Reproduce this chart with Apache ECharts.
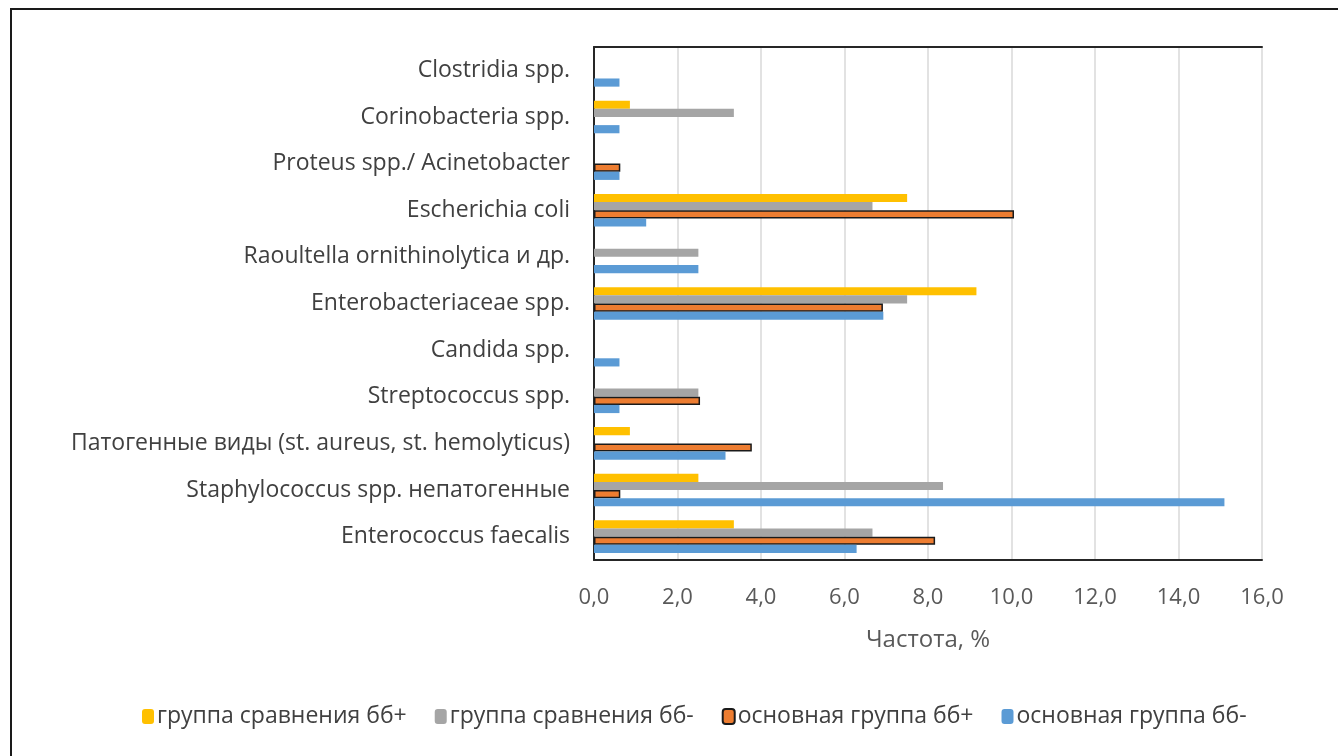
<!DOCTYPE html>
<html><head><meta charset="utf-8">
<script src="https://cdn.jsdelivr.net/npm/echarts@6/dist/echarts.min.js"></script>
<style>html,body{margin:0;padding:0;background:#fff}#c{width:1338px;height:756px}</style>
</head><body><div id="c"></div>
<script>
const categories = [
  "Enterococcus faecalis",
  "Staphylococcus spp. непатогенные",
  "Патогенные виды (st. aureus, st. hemolyticus)",
  "Streptococcus spp.",
  "Candida spp.",
  "Enterobacteriaceae spp.",
  "Raoultella ornithinolytica и др.",
  "Escherichia coli",
  "Proteus spp./ Acinetobacter",
  "Corinobacteria spp.",
  "Clostridia spp."
];
const seriesNames = ["группа сравнения бб+", "группа сравнения бб-", "основная группа бб+", "основная группа бб-"];
const compPlus  = [3.35, 2.5, 0.86, null, null, 9.16, null, 7.5, null, 0.86, null];
const compMinus = [6.67, 8.36, null, 2.5, null, 7.5, 2.5, 6.67, null, 3.35, null];
const mainPlus  = [8.17, 0.63, 3.78, 2.54, null, 6.92, null, 10.06, 0.63, null, null];
const mainMinus = [6.29, 15.1, 3.15, 0.61, 0.61, 6.93, 2.5, 1.25, 0.61, 0.61, 0.61];
const tickMin = 0, tickMax = 16, tickStep = 2;

const font = "'Open Sans',sans-serif";
const chart = echarts.init(document.getElementById('c'));
const fmt = v => v.toFixed(1).replace('.', ',');
chart.setOption({
  animation: false,
  textStyle: { fontFamily: font },
  grid: { left: 594, right: 76, top: 47, bottom: 196, containLabel: false },
  legend: {
    data: seriesNames, top: 700, left: 137, itemWidth: 12, itemHeight: 15, itemGap: 28,
    textStyle: { fontFamily: font, fontSize: 23, color: '#404040', padding: [0, 0, 0, -2] }
  },
  xAxis: [{
    type: 'value', min: tickMin, max: tickMax, interval: tickStep, position: 'bottom',
    name: 'Частота, %', nameLocation: 'middle', nameGap: 68,
    nameTextStyle: { fontFamily: font, fontSize: 24, color: '#595959' },
    axisLine: { show: true, lineStyle: { color: '#262626', width: 2 } },
    axisTick: { show: false },
    axisLabel: { formatter: fmt, fontFamily: font, fontSize: 22, color: '#595959', margin: 27 },
    splitLine: { show: true, lineStyle: { color: '#d9d9d9', width: 1.5 } }
  }, {
    type: 'value', min: tickMin, max: tickMax, interval: tickStep, position: 'top',
    axisLine: { show: true, lineStyle: { color: '#262626', width: 2 } },
    axisTick: { show: false }, axisLabel: { show: false }, splitLine: { show: false }
  }],
  yAxis: [{
    type: 'category', data: categories, position: 'left',
    axisLine: { show: true, lineStyle: { color: '#d9d9d9', width: 1.5 } },
    axisTick: { show: false },
    axisLabel: { fontFamily: font, fontSize: 23, color: '#404040', margin: 24 }
  }, {
    type: 'category', data: categories, position: 'right',
    axisLine: { show: true, lineStyle: { color: '#262626', width: 2 } },
    axisTick: { show: false }, axisLabel: { show: false }
  }],
  series: [
    { name: seriesNames[0], type: 'bar', data: compPlus, barGap: '0%', barCategoryGap: '30%', itemStyle: { color: '#FFC000' } },
    { name: seriesNames[1], type: 'bar', data: compMinus, barGap: '0%', barCategoryGap: '30%', itemStyle: { color: '#A5A5A5' } },
    { name: seriesNames[2], type: 'bar', data: mainPlus, barGap: '0%', barCategoryGap: '30%', itemStyle: { color: '#ED7D31', borderColor: '#1a1a1a', borderWidth: 1.5 } },
    { name: seriesNames[3], type: 'bar', data: mainMinus, barGap: '0%', barCategoryGap: '30%', itemStyle: { color: '#5B9BD5' } }
  ],
  graphic: [
    { type: 'line', shape: { x1: 10, y1: 9, x2: 1338, y2: 9 }, style: { stroke: '#1a1a1a', lineWidth: 2 } },
    { type: 'line', shape: { x1: 11, y1: 8, x2: 11, y2: 756 }, style: { stroke: '#1a1a1a', lineWidth: 2 } }
  ]
});
</script></body></html>
